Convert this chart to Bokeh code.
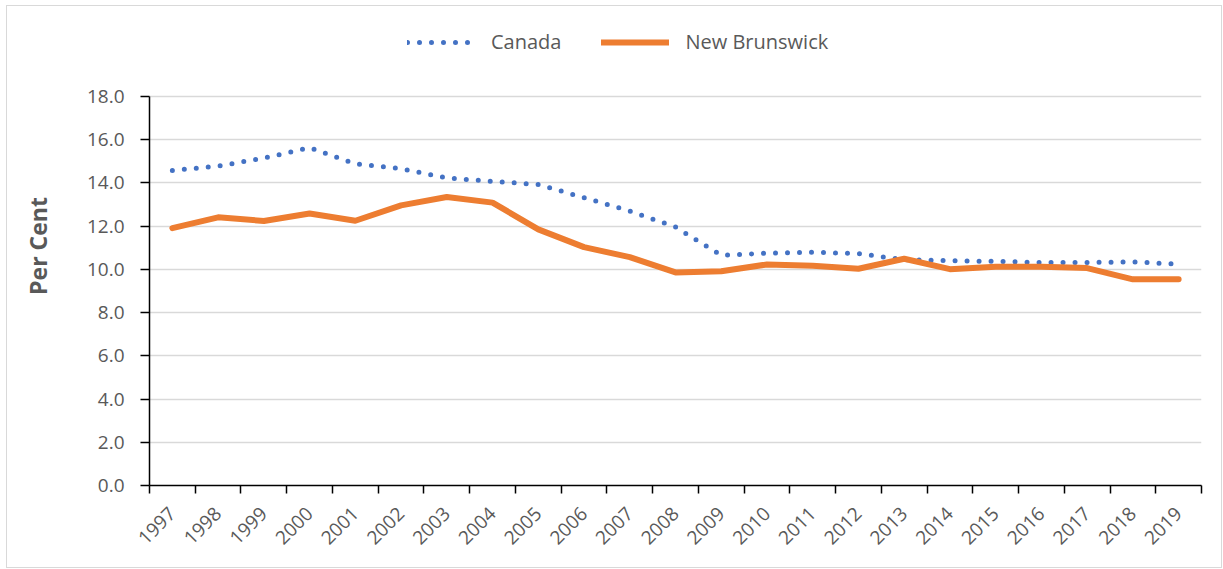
import math
from bokeh.plotting import figure
from bokeh.models import ColumnDataSource, FixedTicker, Legend, LegendItem, NumeralTickFormatter, CustomJSTickFormatter
from bokeh.embed import file_html
from bokeh.resources import INLINE

years = list(range(1997, 2020))
canada = [14.58, 14.78, 15.15, 15.63, 14.88, 14.66, 14.23, 14.07, 13.93, 13.32, 12.70, 11.96,
          10.65, 10.75, 10.79, 10.73, 10.45, 10.40, 10.37, 10.32, 10.32, 10.35, 10.24]
new_brunswick = [11.91, 12.41, 12.24, 12.59, 12.25, 12.96, 13.35, 13.09, 11.85, 11.03, 10.57, 9.86,
                 9.91, 10.23, 10.17, 10.03, 10.49, 10.01, 10.12, 10.12, 10.06, 9.54, 9.54]
y_ticks = [0, 2, 4, 6, 8, 10, 12, 14, 16, 18]

FONT = "Open Sans"
GRAY = "#595959"

src = ColumnDataSource(dict(x=years, ca=canada, nb=new_brunswick))

# frame extends to the top of the figure so the legend (inside the frame) is not clipped;
# the axis and grid only cover 0..18
Y_TOP = 18 * 479 / 389

p = figure(width=1216, height=563, output_backend="svg", toolbar_location=None,
           x_range=(years[0] - 0.5, years[-1] + 0.5), y_range=(0, Y_TOP),
           min_border_left=142, min_border_right=22, min_border_top=0, min_border_bottom=84)
p.styles = {"border": "1px solid #d9d9d9", "box-sizing": "border-box",
            "margin-left": "6px", "margin-top": "5px"}
p.outline_line_color = None
p.background_fill_color = "white"
p.border_fill_color = "white"

r_ca = p.line("x", "ca", source=src, line_color="#4472C4", line_width=5,
              line_dash="0 12", line_cap="round")
r_nb = p.line("x", "nb", source=src, line_color="#ED7D31", line_width=6,
              line_cap="round", line_join="round")

# x axis
p.xaxis.ticker = FixedTicker(ticks=years, minor_ticks=[y - 0.5 for y in years] + [years[-1] + 0.5])
p.xaxis.major_tick_out = 0
p.xaxis.major_tick_in = 0
p.xaxis.minor_tick_out = 8
p.xaxis.minor_tick_in = 0
p.xaxis.minor_tick_line_color = "black"
p.xaxis.minor_tick_line_width = 1.5
p.xaxis.axis_line_color = "black"
p.xaxis.axis_line_width = 1.5
p.xaxis.major_label_orientation = math.pi / 4
p.xaxis.major_label_text_font = FONT
p.xaxis.major_label_text_font_size = "19px"
p.xaxis.major_label_text_color = GRAY
p.xaxis.major_label_standoff = 17
p.xaxis.formatter = CustomJSTickFormatter(code="return tick.toFixed(0);")

# y axis
p.yaxis.ticker = FixedTicker(ticks=y_ticks)
p.yaxis.bounds = (0, 18)
p.yaxis.formatter = NumeralTickFormatter(format="0.0")
p.yaxis.major_tick_out = 9
p.yaxis.major_tick_in = 0
p.yaxis.minor_tick_line_color = None
p.yaxis.major_tick_line_color = "black"
p.yaxis.major_tick_line_width = 1.5
p.yaxis.axis_line_color = "black"
p.yaxis.axis_line_width = 1.5
p.yaxis.major_label_text_font = FONT
p.yaxis.major_label_text_font_size = "19px"
p.yaxis.major_label_text_color = GRAY
p.yaxis.major_label_standoff = 16
p.yaxis.axis_label = "Per Cent"
p.yaxis.axis_label_text_font = FONT
p.yaxis.axis_label_text_font_style = "bold"
p.yaxis.axis_label_text_font_size = "23px"
p.yaxis.axis_label_text_color = GRAY
p.yaxis.axis_label_standoff = 30

p.xgrid.grid_line_color = None
p.ygrid.grid_line_color = "#d9d9d9"
p.ygrid.grid_line_width = 1.5

legend = Legend(items=[LegendItem(label="Canada", renderers=[r_ca]),
                       LegendItem(label="New Brunswick", renderers=[r_nb])],
                orientation="horizontal", location=(258, 430),
                label_text_font=FONT, label_text_font_size="20px", label_text_color=GRAY,
                glyph_width=68, glyph_height=20, label_standoff=16, spacing=40,
                border_line_color=None, background_fill_alpha=0,
                margin=0, padding=0)
p.add_layout(legend, "center")

open("out.html", "w").write(file_html(p, INLINE))
